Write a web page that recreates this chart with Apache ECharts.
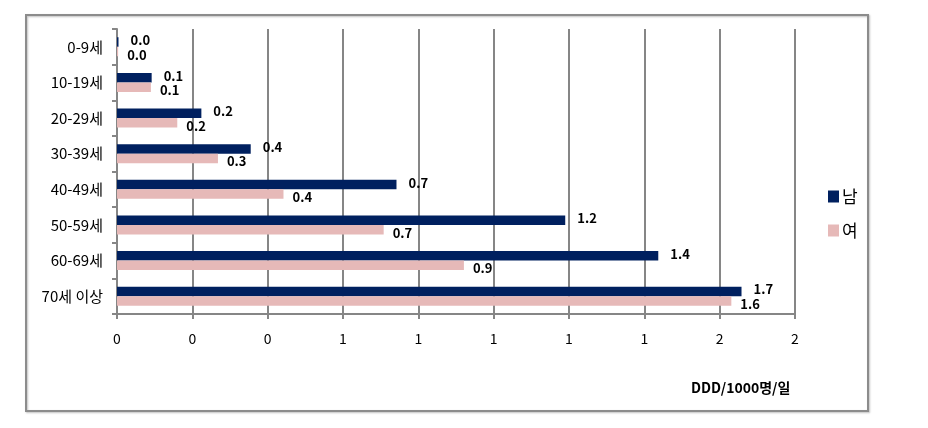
<!DOCTYPE html>
<html>
<head>
<meta charset="utf-8">
<script src="https://cdn.jsdelivr.net/npm/echarts@6/dist/echarts.min.js"></script>
<style>
html,body{margin:0;padding:0;background:#fff;}
#chart{width:928px;height:428px;}
</style>
</head>
<body>
<div id="chart"></div>
<script>
var categories = ['0-9세', '10-19세', '20-29세', '30-39세', '40-49세', '50-59세', '60-69세', '70세 이상'];
var male = [0.004, 0.092, 0.224, 0.355, 0.742, 1.19, 1.437, 1.658];
var female = [0.003, 0.09, 0.16, 0.268, 0.442, 0.708, 0.921, 1.631];
var seriesNames = ['남', '여'];
var xTickLabels = ['0', '0', '0', '1', '1', '1', '1', '1', '2', '2'];
var axisTitle = 'DDD/1000명/일';

var FONT = '"Noto Sans CJK KR", "Noto Sans", sans-serif';
var chart = echarts.init(document.getElementById('chart'));
var option = {
  backgroundColor: '#ffffff',
  animation: false,
  textStyle: { fontFamily: FONT },
  graphic: [
    { type: 'rect', shape: { x: 26, y: 15, width: 842, height: 396 },
      style: { fill: 'none', stroke: '#8c8c8c', lineWidth: 2, shadowColor: 'rgba(0,0,0,0.25)', shadowBlur: 2, shadowOffsetX: 1, shadowOffsetY: 1 }, z: -10 },
    { type: 'text', left: 691, top: 381,
      style: { text: axisTitle, fontFamily: FONT, fontWeight: 'bold', fontSize: 14, fill: '#000' } }
  ],
  legend: {
    orient: 'vertical', left: 823, top: 183,
    itemWidth: 11, itemHeight: 12, itemGap: 17,
    icon: 'rect',
    itemStyle: { borderWidth: 0 },
    textStyle: { fontSize: 17, color: '#000', fontFamily: FONT, padding: [0, 0, 0, -2] },
    data: seriesNames
  },
  grid: { left: 117, right: 133, top: 29, bottom: 114, containLabel: false },
  xAxis: {
    type: 'value', min: 0, max: 1.8, interval: 0.2,
    axisLine: { show: true, lineStyle: { color: '#868686', width: 2 } },
    axisTick: { show: true, length: 5, lineStyle: { color: '#868686', width: 2 } },
    splitLine: { show: true, lineStyle: { color: '#868686', width: 2 } },
    axisLabel: {
      margin: 18, fontSize: 14, color: '#000', fontFamily: FONT,
      formatter: function (v) { return xTickLabels[Math.round(v / 0.2)]; }
    }
  },
  yAxis: {
    type: 'category', inverse: true, data: categories,
    axisLine: { show: true, lineStyle: { color: '#868686', width: 2 } },
    axisTick: { show: true, length: 5, lineStyle: { color: '#868686', width: 2 } },
    axisLabel: { margin: 14, fontSize: 15, color: '#000', fontFamily: FONT }
  },
  series: [
    {
      name: seriesNames[0], type: 'bar', data: male,
      barWidth: 9.5, barGap: '0%',
      itemStyle: { color: '#00205f' },
      label: { show: true, position: 'right', distance: 12, offset: [0, -2],
        fontWeight: 'bold', fontSize: 13, color: '#000', fontFamily: FONT,
        formatter: function (p) { return p.value.toFixed(1); } }
    },
    {
      name: seriesNames[1], type: 'bar', data: female,
      barWidth: 9.5, barGap: '0%',
      itemStyle: { color: '#e6b9b8' },
      label: { show: true, position: 'right', distance: 9, offset: [0, 3],
        fontWeight: 'bold', fontSize: 13, color: '#000', fontFamily: FONT,
        formatter: function (p) { return p.value.toFixed(1); } }
    }
  ]
};
chart.setOption(option);
</script>
</body>
</html>
